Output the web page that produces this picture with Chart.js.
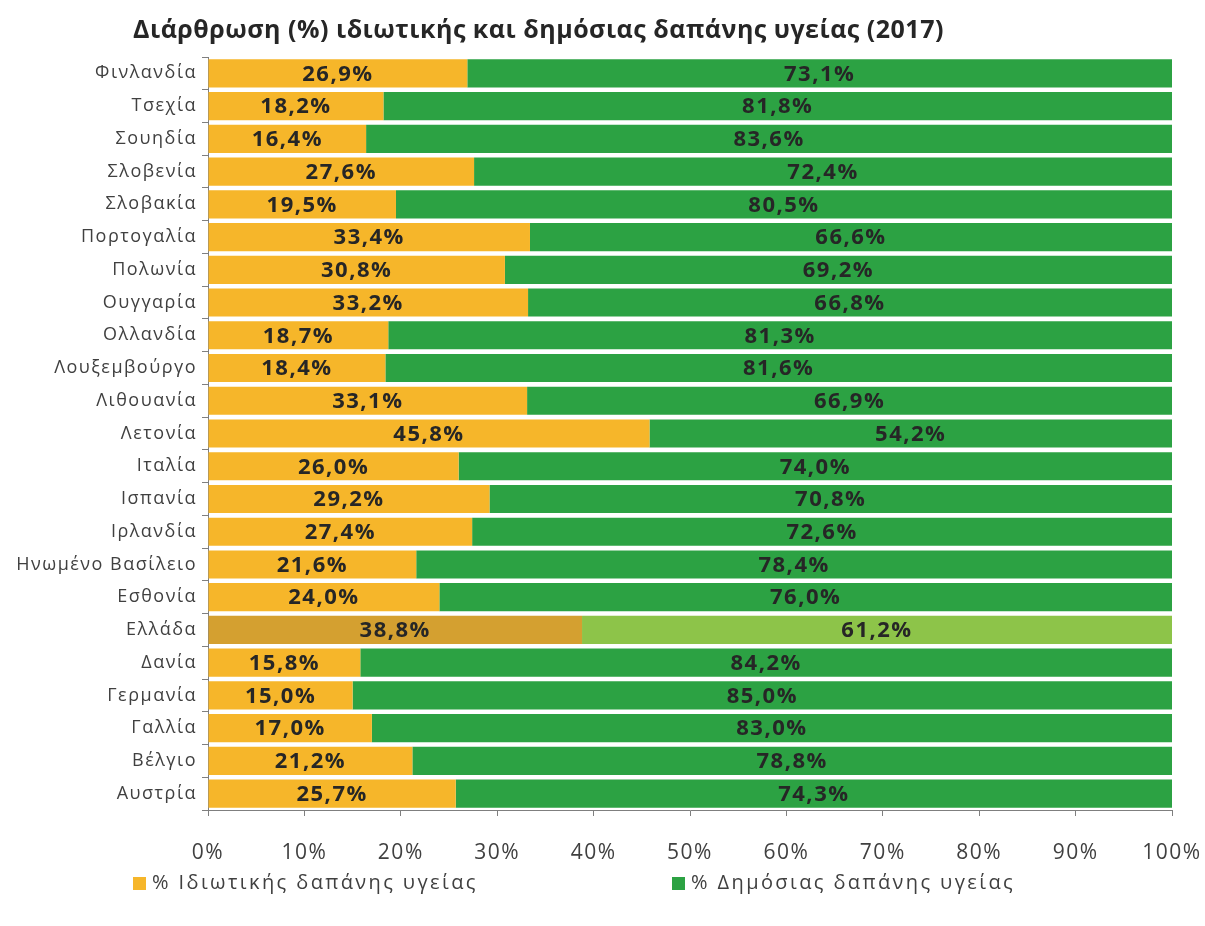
<!DOCTYPE html>
<html lang="el">
<head>
<meta charset="UTF-8">
<title>Διάρθρωση ιδιωτικής και δημόσιας δαπάνης υγείας (2017)</title>
<script src="https://cdn.jsdelivr.net/npm/chart.js"></script>
<style>
  body { margin: 0; background: #fff; }
  #wrap { position: relative; width: 1205px; height: 926px; }
  #title {
    position: absolute; left: 133px; top: 11px;
    font: bold 25px "Open Sans", sans-serif; color: #262626;
    letter-spacing: 0.5px; white-space: nowrap;
  }
  .leg {
    position: absolute; top: 868px;
    font: 20px "Open Sans", sans-serif; color: #404040;
    letter-spacing: 2.4px; white-space: nowrap;
  }
  .leg i {
    display: inline-block; width: 13px; height: 13px;
    margin-right: 6px; vertical-align: -1px;
  }
</style>
</head>
<body>
<div id="wrap">
  <div id="title">Διάρθρωση (%) ιδιωτικής και δημόσιας δαπάνης υγείας (2017)</div>
  <canvas id="chart" width="1205" height="926"></canvas>
</div>
<script>
// values, top row first
const countries = ['Φινλανδία', 'Τσεχία', 'Σουηδία', 'Σλοβενία', 'Σλοβακία', 'Πορτογαλία',
  'Πολωνία', 'Ουγγαρία', 'Ολλανδία', 'Λουξεμβούργο', 'Λιθουανία', 'Λετονία', 'Ιταλία',
  'Ισπανία', 'Ιρλανδία', 'Ηνωμένο Βασίλειο', 'Εσθονία', 'Ελλάδα', 'Δανία', 'Γερμανία',
  'Γαλλία', 'Βέλγιο', 'Αυστρία'];
const privateShare = [26.9, 18.2, 16.4, 27.6, 19.5, 33.4, 30.8, 33.2, 18.7, 18.4, 33.1, 45.8,
  26.0, 29.2, 27.4, 21.6, 24.0, 38.8, 15.8, 15.0, 17.0, 21.2, 25.7];
const publicShare = [73.1, 81.8, 83.6, 72.4, 80.5, 66.6, 69.2, 66.8, 81.3, 81.6, 66.9, 54.2,
  74.0, 70.8, 72.6, 78.4, 76.0, 61.2, 84.2, 85.0, 83.0, 78.8, 74.3];
const seriesNames = ['% Ιδιωτικής δαπάνης υγείας', '% Δημόσιας δαπάνης υγείας'];
const highlight = 'Ελλάδα';

const orange = '#F6B62A', green = '#2CA243';
const orangeHi = '#D4A030', greenHi = '#8DC449';
const pick = (base, hi) => countries.map(c => c === highlight ? hi : base);

// legend as plain html, the chart.js one can't space items apart only sideways
[[seriesNames[0], orange, 133], [seriesNames[1], green, 672]].forEach(([name, col, left]) => {
  const d = document.createElement('div');
  d.className = 'leg';
  d.style.left = left + 'px';
  d.innerHTML = '<i style="background:' + col + '"></i>';
  d.appendChild(document.createTextNode(name));
  document.getElementById('wrap').appendChild(d);
});

// the picture is a bit stretched sideways, so widen canvas text a little
const spacing = {
  id: 'spacing',
  beforeLayout(chart) { chart.ctx.letterSpacing = '1.5px'; },
  beforeDraw(chart) { chart.ctx.letterSpacing = '1.5px'; }
};

// writes the value in the middle of every segment
const segmentLabels = {
  id: 'segmentLabels',
  afterDatasetsDraw(chart) {
    const ctx = chart.ctx;
    ctx.save();
    ctx.font = 'bold 22px "Open Sans", sans-serif';
    ctx.letterSpacing = '1.5px';
    ctx.fillStyle = '#262626';
    ctx.textAlign = 'center';
    ctx.textBaseline = 'middle';
    chart.data.datasets.forEach((ds, i) => {
      chart.getDatasetMeta(i).data.forEach((bar, j) => {
        const txt = ds.data[j].toFixed(1).replace('.', ',') + '%';
        ctx.fillText(txt, (bar.x + bar.base) / 2, bar.y + 1);
      });
    });
    ctx.restore();
  }
};

new Chart(document.getElementById('chart'), {
  type: 'bar',
  data: {
    labels: countries,
    datasets: [
      { label: seriesNames[0], data: privateShare, backgroundColor: pick(orange, orangeHi) },
      { label: seriesNames[1], data: publicShare, backgroundColor: pick(green, greenHi) }
    ]
  },
  options: {
    indexAxis: 'y',
    responsive: false,
    animation: false,
    barPercentage: 0.86,
    categoryPercentage: 1,
    layout: { padding: { top: 57, right: 33, left: 0, bottom: 58 } },
    scales: {
      x: {
        stacked: true,
        min: 0, max: 100,
        ticks: {
          stepSize: 10,
          callback: v => v + '%',
          color: '#404040',
          font: { family: 'Open Sans', size: 21 },
          padding: 24
        },
        grid: { drawOnChartArea: false, tickLength: 6, color: '#7f7f7f' },
        border: { color: '#7f7f7f' },
        afterFit: s => { s.height = 58; s.paddingLeft = 0; s.paddingRight = 0; }
      },
      y: {
        stacked: true,
        ticks: {
          color: '#404040',
          font: { family: 'Open Sans', size: 18 },
          padding: 5,
          autoSkip: false
        },
        grid: { drawOnChartArea: false, tickLength: 6, color: '#7f7f7f' },
        border: { color: '#7f7f7f' },
        afterFit: s => { s.width = 208; }
      }
    },
    plugins: {
      legend: { display: false },
      tooltip: { enabled: false },
      title: { display: false }
    }
  },
  plugins: [spacing, segmentLabels]
});
</script>
</body>
</html>
